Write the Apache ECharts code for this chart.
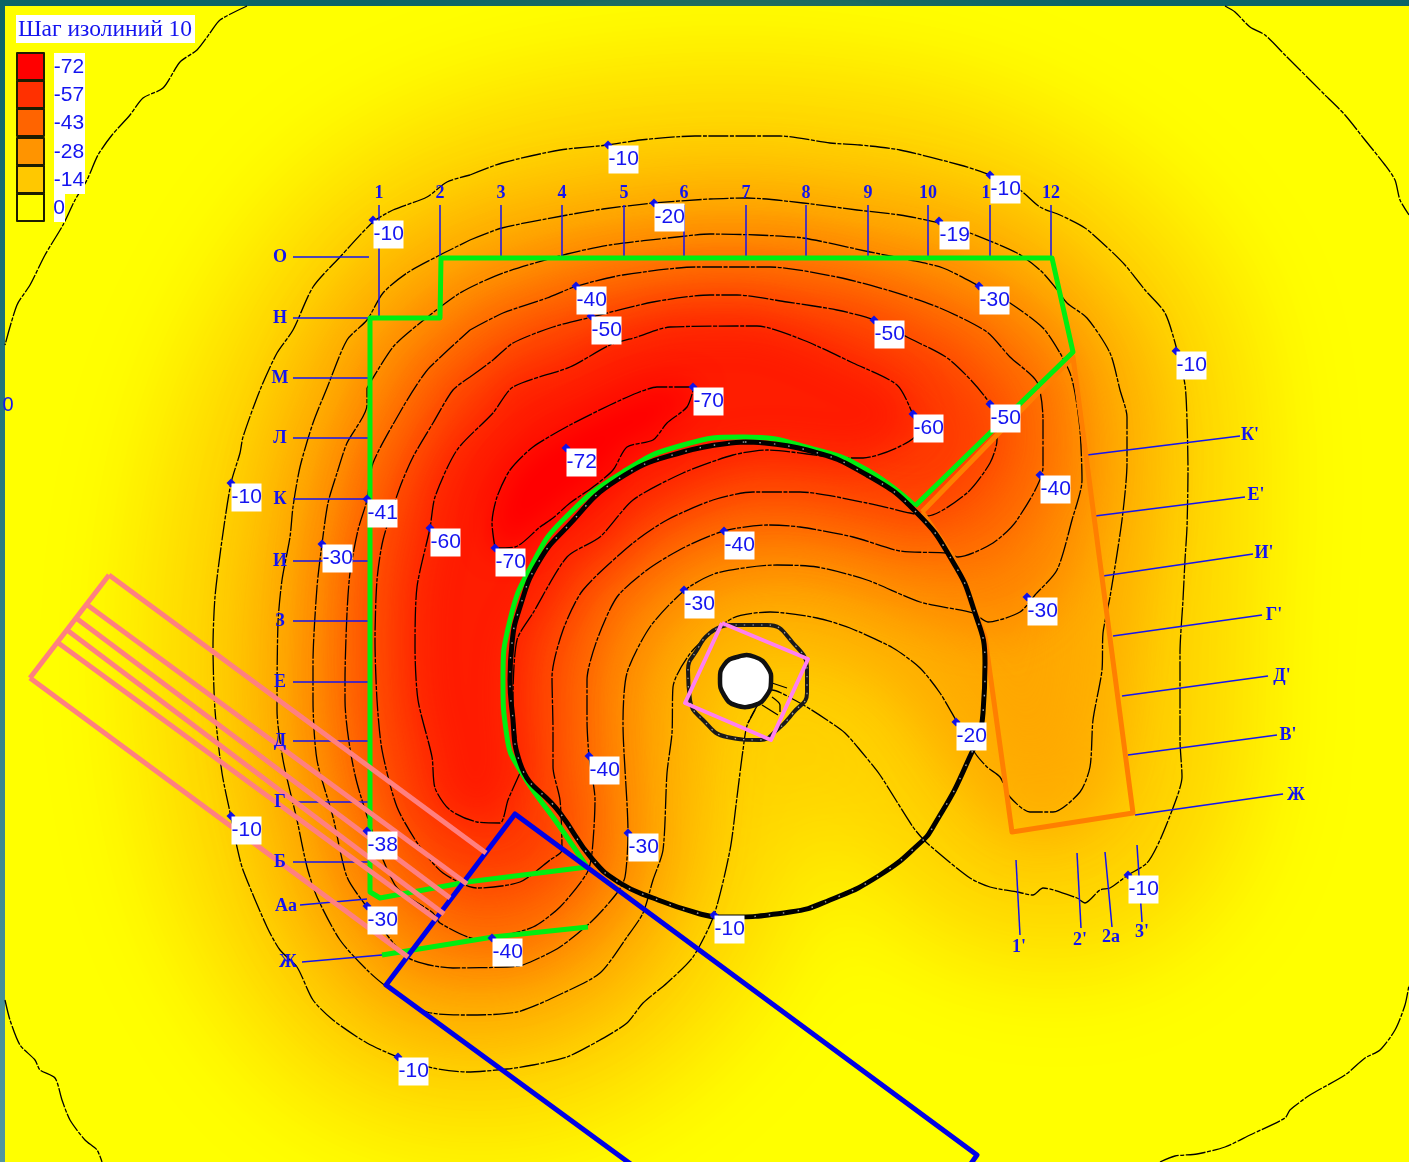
<!DOCTYPE html>
<html><head><meta charset="utf-8">
<style>html,body{margin:0;padding:0;background:#0f6a6c}#c{width:1409px;height:1162px}</style>
<script src="https://cdn.jsdelivr.net/npm/echarts@6/dist/echarts.min.js"></script>
</head><body><div id="c"></div>
<script>
// ---- data (map coordinates) ----
const plotArea=[[5,6],[1409,6],[1409,1162],[5,1162]];
const outerTopLeft=[[247,6],[220,20],[210,33],[197,50],[180,62],[163,88],[143,98],[130,115],[112,135],[98,155],[87,180],[75,200],[63,225],[45,255],[30,285],[17,305],[5,345]];
const outerTopRight=[[1225,6],[1235,12],[1250,27],[1265,35],[1285,55],[1295,65],[1325,95],[1345,115],[1365,140],[1385,165],[1395,180],[1400,200],[1409,215]];
const outerBottomRight=[[1160,1162],[1175,1156],[1197,1154],[1225,1147],[1250,1135],[1285,1118],[1290,1110],[1310,1095],[1345,1075],[1365,1058],[1380,1050],[1395,1030],[1405,1005],[1409,985]];
const outerBottomLeft=[[5,1000],[10,1020],[20,1045],[35,1060],[40,1070],[55,1078],[62,1100],[70,1120],[85,1140],[97,1150],[102,1162]];
const iso10=[[470,175],[502,163],[560,150],[608,145],[640,140],[695,136],[780,136],[830,143],[860,145],[900,150],[960,165],[990,175],[1020,190],[1040,207],[1060,215],[1085,228],[1110,250],[1125,265],[1145,290],[1165,313],[1177,350],[1185,385],[1187,420],[1188,470],[1187,527],[1185,560],[1183,600],[1180,653],[1180,740],[1182,777],[1177,797],[1160,840],[1147,863],[1128,875],[1110,888],[1100,890],[1085,903],[1077,898],[1043,888],[1033,895],[1017,892],[990,887],[970,878],[927,843],[913,827],[880,775],[860,750],[845,733],[827,720],[800,703],[772,690],[748,723],[743,750],[737,797],[730,850],[714,915],[693,957],[667,983],[643,1003],[627,1023],[600,1040],[567,1057],[533,1065],[507,1069],[467,1072],[433,1068],[398,1057],[367,1043],[333,1020],[313,1000],[297,967],[280,950],[267,927],[243,870],[237,847],[231,817],[222,773],[215,710],[213,647],[215,597],[222,540],[231,483],[240,453],[243,437],[260,390],[277,353],[293,330],[313,287],[340,257],[373,222],[393,210],[427,197],[447,182]];
const iso20=[[470,240],[502,228],[562,216],[603,209],[654,203],[710,199],[747,198],[803,203],[857,210],[900,215],[939,223],[970,233],[1017,253],[1040,270],[1055,287],[1067,303],[1087,318],[1110,353],[1120,390],[1127,417],[1127,463],[1122,520],[1110,597],[1103,633],[1102,670],[1093,720],[1090,767],[1080,792],[1053,812],[1030,812],[1010,797],[1000,777],[987,767],[975,753],[957,722],[940,693],[920,668],[893,648],[850,628],[817,618],[770,612],[733,618],[693,650],[673,687],[672,733],[667,773],[663,850],[653,880],[643,913],[627,937],[600,973],[563,993],[517,1012],[467,1015],[427,1012],[387,987],[367,970],[340,940],[317,897],[307,867],[297,820],[283,760],[277,710],[278,623],[282,580],[290,537],[293,507],[300,467],[313,423],[327,388],[347,340],[367,320],[383,293],[407,273],[440,255]];
const iso30=[[367,388],[393,347],[420,323],[460,293],[503,273],[567,254],[610,245],[677,237],[710,234],[757,235],[803,238],[870,252],[910,260],[943,268],[979,286],[1010,303],[1043,328],[1060,353],[1070,373],[1075,393],[1080,430],[1082,480],[1072,520],[1057,570],[1035,595],[1020,612],[988,622],[973,613],[920,602],[867,580],[817,567],[777,565],[717,573],[685,590],[650,627],[627,673],[623,723],[628,833],[625,877],[617,893],[593,920],[560,947],[523,965],[507,967],[453,968],[407,957],[367,907],[347,877],[333,817],[317,760],[313,700],[313,663],[317,587],[322,544],[328,503],[337,473],[347,443],[367,405]];
const iso40=[[470,330],[503,313],[547,298],[577,286],[623,275],[697,267],[770,267],[837,277],[887,290],[940,308],[987,332],[1010,357],[1037,382],[1043,420],[1043,467],[1017,520],[993,543],[958,557],[947,553],[900,551],[853,537],[800,527],[767,525],[724,531],[683,548],[647,570],[617,597],[597,640],[587,680],[587,720],[589,756],[595,800],[592,853],[587,873],[560,907],[533,927],[493,938],[477,939],[440,923],[433,913],[395,885],[357,783],[345,700],[345,680],[347,613],[350,573],[358,530],[367,500],[373,463],[403,407],[420,380],[430,367]];
const iso50=[[470,377],[493,360],[513,343],[553,327],[592,317],[653,302],[710,295],[737,295],[787,302],[837,310],[874,320],[907,337],[950,360],[990,404],[997,440],[990,463],[967,493],[927,516],[910,513],[867,503],[800,492],[753,492],[713,500],[667,520],[633,543],[583,590],[563,630],[552,677],[553,730],[553,767],[560,800],[562,850],[550,860],[520,882],[477,888],[443,873],[420,847],[397,807],[382,750],[377,700],[375,640],[377,580],[383,540],[400,487],[413,457],[433,423],[453,390]];
const iso60=[[520,773],[508,800],[500,823],[477,822],[450,810],[435,788],[432,757],[418,700],[415,647],[417,587],[430,528],[435,497],[457,450],[493,413],[513,387],[570,367],[610,345],[637,337],[670,327],[757,326],[803,340],[853,363],[897,385],[913,415],[917,433],[863,458],[847,458],[767,450],[733,455],[683,473],[633,500],[600,537],[567,557],[533,613],[517,640],[513,700]];
const iso70=[[495,548],[492,523],[497,497],[510,470],[533,447],[570,425],[610,405],[637,393],[657,387],[694,387],[687,407],[667,423],[653,440],[627,447],[613,470],[593,487],[570,503],[553,518],[540,527],[515,547]];
const nearWell1=[[772,683],[787,688]];
const nearWell2=[[772,697],[780,705],[780,712]];
const nearWell3=[[762,705],[778,715]];
const nearWell4=[[755,710],[748,723]];

const levelValues=[-10,-20,-30,-40,-50,-60,-70];
const legendValues=[-72,-57,-43,-28,-14,0];
const legendColors=['#ff0000','#ff3000','#ff6400','#ff9400','#ffc800','#ffff00'];
const legendSlots=[[17,53],[17,81],[17,109],[17,138],[17,166],[17,194]];

const bigRing=[[745,442],[807,450],[867,475],[917,513],[953,562],[973,607],[985,663],[983,713],[967,763],[933,827],[920,843],[880,875],[830,900],[790,912],[720,917],[697,913],[653,898],[620,883],[593,860],[560,813],[520,763],[512,710],[510,680],[512,643],[520,607],[538,563],[567,527],[617,480],[683,452]];
const smallRing=[[727,625],[767,625],[793,643],[807,670],[807,693],[793,713],[777,730],[760,740],[727,737],[703,720],[690,700],[688,670],[697,650],[710,633]];
const well=[[737,657],[755,657],[768,668],[771,682],[767,695],[755,705],[735,705],[724,695],[720,680],[724,665]];
const pinkSquare=[[722,623],[808,659],[771,740],[685,703]];
const greenBorder=[[587,867],[467,882],[380,898],[370,892],[370,318],[440,318],[441,258],[1052,258],[1073,352],[915,506]];
const greenArc=[[915,506],[867,470],[817,450],[743,437],[683,445],[623,472],[563,520],[533,563],[510,620],[503,680],[507,737],[520,770],[560,827],[587,867]];
const greenLower=[[588,927],[493,937],[382,955]];
const orangeBorder=[[922,512],[1073,357],[1133,813],[1012,832],[985,637],[953,557],[922,512]];
const blueBorder=[[632,1165],[386,985],[515,814],[977,1155],[970,1165]];
const salmonEdge=[[109,575],[30,678]];
const salmonA=[[109,575],[486,853]];
const salmonB=[[86,604],[467,884]];
const salmonC=[[76,618],[450,898]];
const salmonD=[[67,630],[444,914]];
const salmonE=[[57,642],[437,920]];
const salmonF=[[30,678],[408,957]];

const topTickX=[379,440,501,562,624,684,746,806,868,928,990,1051];
const topTickLabels=['1','2','3','4','5','6','7','8','9','10','11','12'];
const topTickEnd=[318,258,258,258,258,258,258,258,258,258,258,258];
const leftTickY=[257,318,378,438,499,561,621,682,741,802,862];
const leftTickLabels=['О','Н','М','Л','К','И','З','Е','Д','Г','Б'];
const extraTicks=[[[300,905],[367,899]],[[302,962],[382,955]]];
const extraLabels=[['Аа',286,906],['Ж',288,962]];
const rightTicks=[[[1087,455],[1240,436]],[[1095,516],[1245,497]],[[1103,576],[1253,554]],[[1113,636],[1262,615]],[[1122,696],[1268,676]],[[1128,755],[1277,735]],[[1135,815],[1283,794]]];
const rightLabels=[["К'",1250,435],["Е'",1256,495],["И'",1264,553],["Г'",1274,615],["Д'",1282,676],["В'",1288,735],["Ж",1296,795]];
const bottomTicks=[[[1016,860],[1020,935]],[[1077,853],[1081,928]],[[1105,852],[1112,927]],[[1137,845],[1142,922]]];
const bottomLabels=[["1'",1019,947],["2'",1080,940],["2а",1111,937],["3'",1142,932]];
const isoLabelText=['-10','-10','-10','-20','-19','-40','-50','-50','-30','-10','-70','-60','-50','-72','-40','-10','-41','-60','-40','-30','-70','-30','-30','-20','-40','-10','-38','-30','-10','-30','-10','-40','-10'];
const isoLabelX=[608,990,373,654,939,576,591,874,979,1176,693,913,990,566,1040,231,367,430,724,322,495,684,1027,956,589,231,367,628,1128,367,714,492,398];
const isoLabelY=[145,175,220,203,221,286,316,320,286,351,387,414,404,448,475,483,499,528,531,544,548,590,597,722,756,816,831,833,875,906,915,938,1057];
const stepTitle='Шаг изолиний 10';

// ---- helpers ----
const BLUE='#1414f0';
function hex(c){return [1,3,5].map(i=>parseInt(c.substr(i,2),16));}
function colorOf(v){
  for(let i=0;i<legendValues.length-1;i++){
    const a=legendValues[i],b=legendValues[i+1];
    if(v>=a&&v<=b){const t=(v-a)/(b-a),ca=hex(legendColors[i]),cb=hex(legendColors[i+1]);
      return 'rgb('+ca.map((x,k)=>Math.round(x+(cb[k]-x)*t)).join(',')+')';}
  }
  return v<-72?legendColors[0]:legendColors[5];
}
const OFF=3000;
function softField(points,color,blur,grow,z){
  return {type:'custom',coordinateSystem:'cartesian2d',silent:true,z,clip:true,animation:false,data:[points[0]],
    renderItem(p,api){
      return {type:'polygon',silent:true,
        shape:{points:points.map(q=>{const c=api.coord(q);return [c[0]-OFF,c[1]];})},
        style:{fill:color,stroke:color,lineWidth:grow,lineJoin:'round',shadowColor:color,shadowBlur:blur,shadowOffsetX:OFF}};
    }};
}
function solid(points,fill,stroke,width,z,smooth){
  return {type:'custom',coordinateSystem:'cartesian2d',silent:true,z,animation:false,data:[points[0]],
    renderItem(p,api){
      return {type:'polygon',silent:true,shape:{points:points.map(q=>api.coord(q)),smooth:smooth||0},
        style:{fill,stroke,lineWidth:width,lineJoin:'round'}};
    }};
}
function path(points,color,width,z,dash,smooth){
  return {type:'line',data:points,showSymbol:false,symbol:'none',silent:true,z,animation:false,smooth:smooth||0,
    lineStyle:{color,width,type:dash||'solid',cap:'butt',join:'round'}};
}
function closed(a){return a.concat([a[0]]);}
const ISO_DASH=[20,1.5,4,1.5];
function iso(a,isClosed){return path(isClosed?closed(a):a,'#000000',1.3,20,ISO_DASH,0.25);}
function texts(rows,font,color,z){
  return {type:'custom',coordinateSystem:'cartesian2d',silent:true,z,animation:false,data:rows.map(r=>[r[1],r[2],r[0]]),
    renderItem(p,api){
      const c=api.coord([api.value(0),api.value(1)]);
      return {type:'text',silent:true,x:c[0],y:c[1],
        style:{text:rows[p.dataIndex][0],font,fill:color,align:'center',verticalAlign:'middle'}};
    }};
}

const series=[];
series.push(solid(plotArea,'#ffff00',null,0,1));
const blurs=[130,70,50,44,40,36,30];
const grows=[90,40,16,10,8,6,4];
const fieldShapes=[iso10,iso20,iso30,iso40,iso50,iso60,iso70];
const fieldTone=[-14,-23,-33,-43,-53,-63,-74];
fieldShapes.forEach((s,i)=>series.push(softField(s,colorOf(fieldTone[i]),blurs[i],grows[i],2+i)));

[outerTopLeft,outerTopRight,outerBottomRight,outerBottomLeft,nearWell1,nearWell2,nearWell3,nearWell4].forEach(a=>series.push(iso(a,false)));
fieldShapes.forEach(s=>series.push(iso(s,true)));

series.push(path(orangeBorder,'#ff7f00',5,30));
series.push(path(greenBorder,'#00ee10',5,31));
series.push(path(greenArc,'#00ee10',5,31,null,0.5));
series.push(path(greenLower,'#00ee10',5,31));
series.push(path(closed(bigRing),'#000000',5,32,null,0.5));
series.push(path(closed(bigRing),'#a0a0a0',1.4,33,[1.5,13],0.5));
series.push(path(blueBorder,'#0000e8',5,34));
[salmonEdge,salmonA,salmonB,salmonC,salmonD,salmonE,salmonF].forEach(a=>series.push(path(a,'#ff8080',5,35)));
series.push(path(closed(smallRing),'#1a1a1a',4,36,null,0.5));
series.push(path(closed(smallRing),'#a0a0a0',1.2,37,[1.5,7],0.5));
series.push(path(closed(pinkSquare),'#ff80f0',4,38));
series.push(solid(well,'#ffffff','#111111',4.5,39,0.5));

// survey ticks
topTickX.forEach((x,i)=>series.push(path([[x,205],[x,topTickEnd[i]]],BLUE,1.5,25)));
leftTickY.forEach(y=>series.push(path([[293,y],[369,y]],BLUE,1.5,25)));
extraTicks.concat(rightTicks,bottomTicks).forEach(a=>series.push(path(a,BLUE,1.5,25)));
const tickFont='bold 18px "Liberation Serif"';
series.push(texts(topTickX.map((x,i)=>[topTickLabels[i],x,193]),tickFont,BLUE,40));
series.push(texts(leftTickY.map((y,i)=>[leftTickLabels[i],280,y]),tickFont,BLUE,40));
series.push(texts(extraLabels.concat(rightLabels,bottomLabels),tickFont,BLUE,40));

// isoline value tags
series.push({type:'scatter',symbol:'diamond',symbolSize:9,silent:true,z:50,animation:false,
  itemStyle:{color:'#1010e8',opacity:1},
  data:isoLabelX.map((x,i)=>({value:[x,isoLabelY[i]],name:isoLabelText[i]})),
  label:{show:true,position:[5,5],opacity:1,formatter:'{b}',color:BLUE,backgroundColor:'#ffffff',
    fontFamily:'Liberation Sans',fontSize:21,width:30,height:28,lineHeight:28,align:'left',padding:0,overflow:'none'}});
// clipped tag at the left edge
series.push(texts([['0',8,405]],'20px "Liberation Sans"',BLUE,50));

// legend
legendSlots.forEach((s,i)=>{
  const r=[[s[0],s[1]],[s[0]+27,s[1]],[s[0]+27,s[1]+27],[s[0],s[1]+27]];
  series.push(solid(r,legendColors[i],'#1c1c00',2,60));
});
series.push(solid([[54,53],[85,53],[85,194],[65,194],[65,222],[54,222]],'#ffffff',null,0,60));
series.push(solid([[16,15],[195,15],[195,43],[16,43]],'#ffffff',null,0,60));
series.push(texts(legendValues.map((v,i)=>[String(v),v===0?59:69,legendSlots[i][1]+14]),'21px "Liberation Sans"',BLUE,61));
series.push(texts([[stepTitle,105,30]],'23.5px "Liberation Serif"',BLUE,61));

const chart=echarts.init(document.getElementById('c'),null,{renderer:'canvas'});
chart.setOption({
  animation:false,
  backgroundColor:{type:'linear',x:0,y:0,x2:0,y2:1,colorStops:[{offset:0,color:'#0b6468'},{offset:1,color:'#5197a0'}]},
  grid:{left:0,right:0,top:0,bottom:0,containLabel:false},
  xAxis:{type:'value',min:0,max:1409,show:false},
  yAxis:{type:'value',min:0,max:1162,inverse:true,show:false},
  tooltip:{show:false},
  series
});
</script></body></html>
